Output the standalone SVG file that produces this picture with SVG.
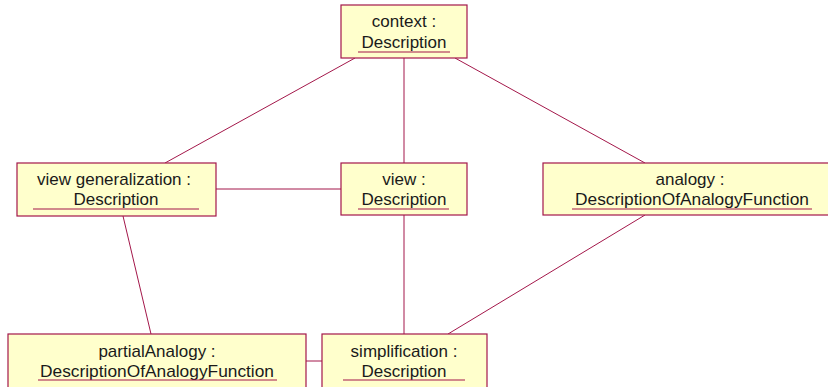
<svg xmlns="http://www.w3.org/2000/svg" width="828" height="387" viewBox="0 0 828 387">
  <style>
    .box { fill: #ffffcc; stroke: #a3174a; stroke-width: 1.2; }
    .lbl { font-family: "Liberation Sans", Arial, sans-serif; font-size: 17px; fill: #1a1a1a; text-anchor: middle; }
    .ul { stroke: #a3174a; stroke-width: 1.2; }
    .conn line { stroke: #a3174a; stroke-width: 1; }
  </style>
  <rect width="828" height="387" fill="#ffffff"/>

  <!-- links between objects -->
  <g id="connectors" class="conn">
    <line x1="355" y1="58" x2="165" y2="163"/>
    <line x1="404" y1="58" x2="404" y2="163"/>
    <line x1="455" y1="58" x2="645" y2="163"/>
    <line x1="216" y1="189" x2="341" y2="189"/>
    <line x1="123" y1="216" x2="151" y2="334"/>
    <line x1="404" y1="215" x2="404" y2="334"/>
    <line x1="645" y1="215" x2="448" y2="334"/>
    <line x1="306" y1="361" x2="322" y2="361"/>
  </g>

  <g id="context">
    <rect class="box" x="341" y="5" width="126" height="53"/>
    <text class="lbl" x="404" y="27">context :</text>
    <text class="lbl" x="404" y="48">Description</text>
    <line class="ul" x1="358" y1="52" x2="450" y2="52"/>
  </g>

  <g id="viewGeneralization">
    <rect class="box" x="17" y="163" width="199" height="53"/>
    <text class="lbl" x="114" y="185">view generalization :</text>
    <text class="lbl" x="116" y="205">Description</text>
    <line class="ul" x1="33" y1="209" x2="199" y2="209"/>
  </g>

  <g id="view">
    <rect class="box" x="341" y="163" width="126" height="52"/>
    <text class="lbl" x="404" y="185">view :</text>
    <text class="lbl" x="404" y="205">Description</text>
    <line class="ul" x1="358" y1="209" x2="449" y2="209"/>
  </g>

  <g id="analogy">
    <rect class="box" x="543" y="163" width="298" height="52"/>
    <text class="lbl" x="690" y="185">analogy :</text>
    <text class="lbl" x="692" y="205" textLength="234" lengthAdjust="spacingAndGlyphs">DescriptionOfAnalogyFunction</text>
    <line class="ul" x1="572" y1="209" x2="812" y2="209"/>
  </g>

  <g id="partialAnalogy">
    <rect class="box" x="8" y="334" width="298" height="60"/>
    <text class="lbl" x="157" y="357">partialAnalogy :</text>
    <text class="lbl" x="157" y="377" textLength="234" lengthAdjust="spacingAndGlyphs">DescriptionOfAnalogyFunction</text>
    <line class="ul" x1="38" y1="380" x2="277" y2="380"/>
  </g>

  <g id="simplification">
    <rect class="box" x="322" y="334" width="165" height="60"/>
    <text class="lbl" x="404" y="357">simplification :</text>
    <text class="lbl" x="404" y="377">Description</text>
    <line class="ul" x1="343" y1="380" x2="465" y2="380"/>
  </g>
</svg>
